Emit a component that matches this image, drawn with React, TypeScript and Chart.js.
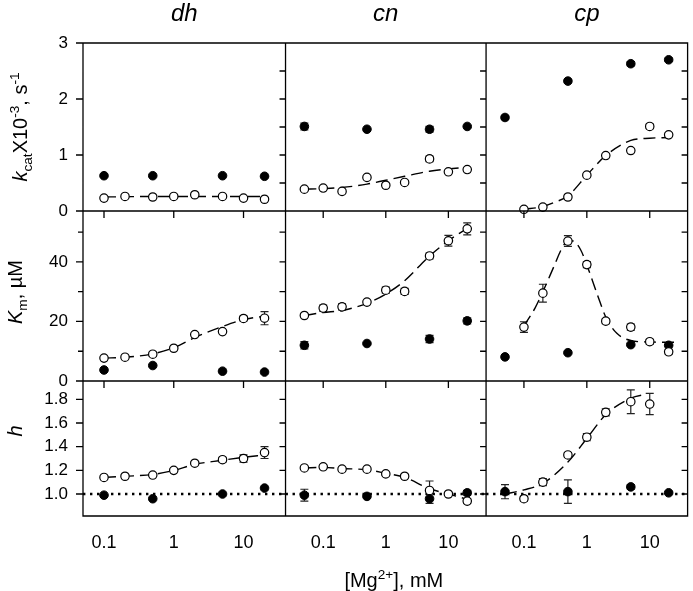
import React, { useEffect, useRef } from 'react';
import { Chart, registerables } from 'chart.js';
Chart.register(...registerables);

const FONT = "'Liberation Sans', Arial, Helvetica, sans-serif";

// ---------- x values (mM Mg2+) ----------
const xDhOpen = [0.1, 0.2, 0.5, 1, 2, 5, 10, 20];
const xDhFilled = [0.1, 0.5, 5, 20];
const xCnOpen = [0.05, 0.1, 0.2, 0.5, 1, 2, 5, 10, 20];
const xCnFilled = [0.05, 0.5, 5, 20];
const xCpOpen = [0.1, 0.2, 0.5, 1, 2, 5, 10, 20];
const xCpOpenH = [0.1, 0.2, 0.5, 1, 2, 5, 10];
const xCpFilled = [0.05, 0.5, 5, 20];

// ---------- kcat x10^-3 (s^-1) ----------
const kDhOpen = [0.23, 0.26, 0.25, 0.26, 0.29, 0.26, 0.23, 0.21];
const kDhFilled = [0.63, 0.63, 0.63, 0.62];
const kCnOpen = [0.39, 0.41, 0.35, 0.6, 0.46, 0.51, 0.93, 0.7, 0.74];
const kCnOpenErr = [0, 0, 0, 0, 0, 0, 0.05, 0, 0];
const kCnFilled = [1.51, 1.46, 1.46, 1.51];
const kCnFilledErr = [0.06, 0, 0.05, 0];
const kCpOpen = [0.03, 0.07, 0.25, 0.64, 0.99, 1.08, 1.51, 1.36];
const kCpOpenErr = [0, 0, 0, 0, 0, 0, 0.04, 0.03];
const kCpFilled = [1.67, 2.32, 2.63, 2.7];
const kCpFilledErr = [0.04, 0.03, 0.04, 0.03];

const fitDhKX = [0.1, 0.2, 0.5, 1, 2, 5, 10, 20];
const fitDhKY = [0.25, 0.255, 0.26, 0.26, 0.26, 0.26, 0.26, 0.26];
const fitCnKX = [0.05, 0.1, 0.2, 0.5, 1, 2, 5, 10, 20];
const fitCnKY = [0.39, 0.4, 0.42, 0.48, 0.55, 0.62, 0.71, 0.75, 0.78];
const fitCpKX = [0.1, 0.2, 0.3, 0.5, 1, 2, 5, 10, 20];
const fitCpKY = [0.03, 0.08, 0.15, 0.27, 0.64, 0.99, 1.26, 1.3, 1.31];

// ---------- Km (uM) ----------
const mDhOpen = [7.7, 8.0, 9.0, 11.0, 15.6, 16.6, 21.0, 21.1];
const mDhOpenErr = [0, 0, 0.7, 0, 0, 0, 0.8, 2.2];
const mDhFilled = [3.7, 5.2, 3.3, 3.0];
const mCnOpen = [22.0, 24.5, 24.9, 26.5, 30.5, 30.1, 42.0, 47.1, 51.1];
const mCnOpenErr = [0, 1, 1, 0, 1, 1, 1, 1.8, 2];
const mCnFilled = [12.0, 12.6, 14.1, 20.2];
const mCnFilledErr = [1.2, 0, 1.2, 1];
const mCpOpen = [18.1, 29.5, 47.0, 39.1, 20.1, 18.1, 13.2, 9.8];
const mCpOpenErr = [1.8, 3, 1.8, 1, 0.8, 1, 0.8, 0.8];
const mCpFilled = [8.1, 9.5, 12.2, 12.0];

const fitDhMX = [0.1, 0.2, 0.5, 1, 2, 5, 10, 20];
const fitDhMY = [7.7, 8.0, 9.1, 11.2, 14.6, 18.3, 20.6, 21.8];
const fitCnMX = [0.05, 0.1, 0.2, 0.5, 1, 2, 5, 10, 20];
const fitCnMY = [22.0, 23.0, 23.7, 26.1, 29.2, 33.7, 42.0, 47.1, 51.3];
const fitCpMX = [0.1, 0.15, 0.2, 0.3, 0.4, 0.5, 0.6, 0.8, 1, 1.5, 2, 3, 5, 10, 25];
const fitCpMY = [18.5, 24.5, 30, 38.5, 44.5, 47, 47, 44, 39, 28.5, 21.5, 16, 13.6, 13.1, 13.0];

// ---------- Hill coefficient h ----------
const hDhOpen = [1.14, 1.15, 1.16, 1.2, 1.26, 1.29, 1.3, 1.35];
const hDhOpenErr = [0, 0, 0, 0.01, 0.01, 0.02, 0.03, 0.05];
const hDhFilled = [0.99, 0.96, 1.0, 1.05];
const hCnOpen = [1.22, 1.23, 1.21, 1.21, 1.17, 1.15, 1.03, 1.0, 0.94];
const hCnOpenErr = [0, 0.015, 0.015, 0, 0.015, 0.015, 0.08, 0, 0.02];
const hCnFilled = [0.99, 0.98, 0.96, 1.01];
const hCnFilledErr = [0.05, 0.01, 0.04, 0.02];
const hCpOpen = [0.96, 1.1, 1.33, 1.48, 1.69, 1.78, 1.76];
const hCpOpenErr = [0.02, 0.03, 0.02, 0.03, 0.03, 0.1, 0.09];
const hCpFilled = [1.02, 1.02, 1.06, 1.01];
const hCpFilledErr = [0.06, 0.1, 0.02, 0.01];

const fitDhHX = [0.1, 0.2, 0.5, 1, 2, 5, 10, 20];
const fitDhHY = [1.14, 1.15, 1.165, 1.2, 1.25, 1.285, 1.31, 1.33];
const fitCnHX = [0.05, 0.1, 0.2, 0.5, 1, 2, 5, 10, 20];
const fitCnHY = [1.22, 1.225, 1.215, 1.205, 1.175, 1.14, 1.045, 1.0, 0.955];
const fitCpHX = [0.05, 0.1, 0.2, 0.5, 1, 2, 5, 9];
const fitCpHY = [1.0, 1.035, 1.09, 1.27, 1.47, 1.67, 1.81, 1.845];

// ---------- axes ----------
const colTitles = ['dh', 'cn', 'cp'];
const colMin = [0.05, 0.025, 0.025];
const colMax = [40, 40, 40];
const colWeight = [204, 202, 203];
const xTickValues = [0.1, 1, 10];
const xTickLabels = ['0.1', '1', '10'];
const rowWeight = [168, 170, 135];
const rowMin = [0, 0, 0.814];
const rowMax = [3, 57.1, 1.955];
const rowTicks = [[0, 1, 2, 3], [0, 20, 40], [1.0, 1.2, 1.4, 1.6, 1.8]];
const rowTickLabels = [['0', '1', '2', '3'], ['0', '20', '40'], ['1.0', '1.2', '1.4', '1.6', '1.8']];
const rowMinorLeft = [[], [10, 30, 50], []];
const rowInnerTicks = [[0.5, 1, 1.5, 2, 2.5], [10, 20, 30, 40, 50], [1.0, 1.2, 1.4, 1.6, 1.8]];
const hillRef = 1.0;

function pts(xs: number[], ys: number[]) {
  return xs.map((x, i) => ({ x, y: ys[i] }));
}

function openSet(col: number, row: number, xs: number[], ys: number[], errs?: number[]) {
  return {
    type: 'scatter', xAxisID: 'x' + col, yAxisID: 'y' + row, data: pts(xs, ys), errors: errs,
    pointRadius: 4.2, pointBorderWidth: 1.2, pointBackgroundColor: '#ffffff', pointBorderColor: '#000000',
    showLine: false, order: 0, clip: false,
  };
}
function filledSet(col: number, row: number, xs: number[], ys: number[], errs?: number[]) {
  return {
    type: 'scatter', xAxisID: 'x' + col, yAxisID: 'y' + row, data: pts(xs, ys), errors: errs,
    pointRadius: 4.3, pointBorderWidth: 1, pointBackgroundColor: '#000000', pointBorderColor: '#000000',
    showLine: false, order: 0, clip: false,
  };
}
function fitSet(col: number, row: number, xs: number[], ys: number[]) {
  return {
    type: 'line', xAxisID: 'x' + col, yAxisID: 'y' + row, data: pts(xs, ys),
    borderColor: '#000000', borderWidth: 1.4, borderDash: [12, 6], pointRadius: 0,
    cubicInterpolationMode: 'monotone', fill: false, order: 1, clip: false,
  };
}
function refSet(col: number) {
  return {
    type: 'line', xAxisID: 'x' + col, yAxisID: 'y3',
    data: [{ x: colMin[col - 1], y: hillRef }, { x: colMax[col - 1], y: hillRef }],
    borderColor: '#000000', borderWidth: 2.4, borderDash: [2.4, 4.6], pointRadius: 0,
    fill: false, order: 2, clip: false,
  };
}

type Run = { t: string; italic?: boolean; sub?: boolean; sup?: boolean };
function drawRich(ctx: CanvasRenderingContext2D, runs: Run[], size: number, x: number, y: number) {
  let total = 0;
  const items = runs.map((r) => {
    const s = r.sub || r.sup ? size * 0.68 : size;
    const f = `${r.italic ? 'italic ' : ''}${s}px ${FONT}`;
    ctx.font = f;
    const w = ctx.measureText(r.t).width;
    total += w;
    return { r, f, w, dy: r.sup ? -size * 0.42 : r.sub ? size * 0.24 : 0 };
  });
  let cx = x - total / 2;
  ctx.textAlign = 'left';
  ctx.textBaseline = 'alphabetic';
  for (const it of items) {
    ctx.font = it.f;
    ctx.fillText(it.r.t, cx, y + it.dy);
    cx += it.w;
  }
}

const rowTitles: Run[][] = [
  [{ t: 'k', italic: true }, { t: 'cat', sub: true }, { t: 'X10' }, { t: '-3', sup: true }, { t: ', s' }, { t: '-1', sup: true }],
  [{ t: 'K', italic: true }, { t: 'm', sub: true }, { t: ', \u00b5M' }],
  [{ t: 'h', italic: true }],
];
const xTitle: Run[] = [{ t: '[Mg' }, { t: '2+', sup: true }, { t: '], mM' }];

const errorBarPlugin = {
  id: 'errorBars',
  beforeDatasetsDraw(chart: any) {
    const ctx = chart.ctx;
    ctx.save();
    ctx.strokeStyle = '#222222';
    ctx.lineWidth = 1.2;
    chart.data.datasets.forEach((ds: any, di: number) => {
      if (!ds.errors) return;
      const meta = chart.getDatasetMeta(di);
      const ys = chart.scales[ds.yAxisID];
      ds.data.forEach((p: any, i: number) => {
        const e = ds.errors[i];
        if (!e) return;
        const el = meta.data[i];
        const px = el.x;
        const top = ys.getPixelForValue(p.y + e);
        const bot = ys.getPixelForValue(p.y - e);
        ctx.beginPath();
        ctx.moveTo(px, top); ctx.lineTo(px, bot);
        ctx.moveTo(px - 4, top); ctx.lineTo(px + 4, top);
        ctx.moveTo(px - 4, bot); ctx.lineTo(px + 4, bot);
        ctx.stroke();
      });
    });
    ctx.restore();
  },
};

const framePlugin = {
  id: 'frame',
  afterDraw(chart: any) {
    const ctx = chart.ctx;
    const xs = [chart.scales.x1, chart.scales.x2, chart.scales.x3];
    const ys = [chart.scales.y1, chart.scales.y2, chart.scales.y3];
    ctx.save();
    ctx.strokeStyle = '#000000';
    ctx.lineWidth = 1.3;
    ctx.beginPath();
    for (let c = 0; c < 3; c++) {
      for (let r = 0; r < 3; r++) {
        const xa = xs[c], ya = ys[r];
        ctx.rect(xa.left, ya.top, xa.right - xa.left, ya.bottom - ya.top);
        rowInnerTicks[r].forEach((v) => {
          const py = ya.getPixelForValue(v);
          ctx.moveTo(xa.right - 6, py); ctx.lineTo(xa.right, py);
        });
        if (r > 0) {
          xTickValues.forEach((v) => {
            const px = xa.getPixelForValue(v);
            ctx.moveTo(px, ya.top); ctx.lineTo(px, ya.top + 7);
          });
        }
      }
    }
    const left = xs[0].left;
    for (let r = 0; r < 3; r++) {
      const ya = ys[r];
      rowTicks[r].forEach((v) => {
        const py = ya.getPixelForValue(v);
        ctx.moveTo(left - 7, py); ctx.lineTo(left, py);
      });
      rowMinorLeft[r].forEach((v) => {
        const py = ya.getPixelForValue(v);
        ctx.moveTo(left - 5, py); ctx.lineTo(left, py);
      });
    }
    ctx.stroke();

    ctx.fillStyle = '#000000';
    for (let c = 0; c < 3; c++) {
      const xa = xs[c];
      drawRich(ctx, [{ t: colTitles[c], italic: true }], 24, (xa.left + xa.right) / 2, 21);
    }
    const titleBase = [27, 22, 22];
    const titleCenter = [
      (ys[0].top + ys[0].bottom) / 2,
      (ys[1].top + ys[1].bottom) / 2 - 4,
      ys[2].top + 50,
    ];
    for (let r = 0; r < 3; r++) {
      ctx.save();
      ctx.translate(titleBase[r], titleCenter[r]);
      ctx.rotate(-Math.PI / 2);
      drawRich(ctx, rowTitles[r], 20, 0, 0);
      ctx.restore();
    }
    drawRich(ctx, xTitle, 20, (xs[1].left + xs[1].right) / 2 + 8, 587);
    ctx.restore();
  },
};

function zeroPad(s: any) {
  s.paddingLeft = 0; s.paddingRight = 0; s.paddingTop = 0; s.paddingBottom = 0;
}

export default function App() {
  const ref = useRef<HTMLCanvasElement>(null);
  useEffect(() => {
    if (!ref.current) return;
    const scales: any = {};
    for (let c = 1; c <= 3; c++) {
      scales['x' + c] = {
        type: 'logarithmic', position: 'bottom', stack: 'cols', stackWeight: colWeight[c - 1],
        min: colMin[c - 1], max: colMax[c - 1],
        grid: { display: false, drawTicks: false }, border: { display: false },
        afterBuildTicks: (s: any) => { s.ticks = xTickValues.map((v) => ({ value: v })); },
        afterFit: (s: any) => { s.height = 75; zeroPad(s); },
        ticks: {
          color: '#000000', font: { family: FONT, size: 18 }, padding: 16, autoSkip: false,
          maxRotation: 0, minRotation: 0,
          callback: (v: number) => { const i = xTickValues.indexOf(v); return i >= 0 ? xTickLabels[i] : ''; },
        },
      };
    }
    // left-positioned stacked axes are laid out in reverse order: define bottom row first
    for (let r = 3; r >= 1; r--) {
      scales['y' + r] = {
        type: 'linear', position: 'left', stack: 'rows', stackWeight: rowWeight[r - 1],
        min: rowMin[r - 1], max: rowMax[r - 1],
        grid: { display: false, drawTicks: false }, border: { display: false },
        afterBuildTicks: (s: any) => { s.ticks = rowTicks[r - 1].map((v) => ({ value: v })); },
        afterFit: (s: any) => { s.width = 83; zeroPad(s); },
        ticks: {
          color: '#000000', font: { family: FONT, size: 17 }, padding: 15, autoSkip: false,
          callback: (v: number, i: number) => rowTickLabels[r - 1][i],
        },
      };
    }
    const datasets: any[] = [
      openSet(1, 1, xDhOpen, kDhOpen), filledSet(1, 1, xDhFilled, kDhFilled), fitSet(1, 1, fitDhKX, fitDhKY),
      openSet(2, 1, xCnOpen, kCnOpen, kCnOpenErr), filledSet(2, 1, xCnFilled, kCnFilled, kCnFilledErr), fitSet(2, 1, fitCnKX, fitCnKY),
      openSet(3, 1, xCpOpen, kCpOpen, kCpOpenErr), filledSet(3, 1, xCpFilled, kCpFilled, kCpFilledErr), fitSet(3, 1, fitCpKX, fitCpKY),
      openSet(1, 2, xDhOpen, mDhOpen, mDhOpenErr), filledSet(1, 2, xDhFilled, mDhFilled), fitSet(1, 2, fitDhMX, fitDhMY),
      openSet(2, 2, xCnOpen, mCnOpen, mCnOpenErr), filledSet(2, 2, xCnFilled, mCnFilled, mCnFilledErr), fitSet(2, 2, fitCnMX, fitCnMY),
      openSet(3, 2, xCpOpen, mCpOpen, mCpOpenErr), filledSet(3, 2, xCpFilled, mCpFilled), fitSet(3, 2, fitCpMX, fitCpMY),
      openSet(1, 3, xDhOpen, hDhOpen, hDhOpenErr), filledSet(1, 3, xDhFilled, hDhFilled), fitSet(1, 3, fitDhHX, fitDhHY),
      openSet(2, 3, xCnOpen, hCnOpen, hCnOpenErr), filledSet(2, 3, xCnFilled, hCnFilled, hCnFilledErr), fitSet(2, 3, fitCnHX, fitCnHY),
      openSet(3, 3, xCpOpenH, hCpOpen, hCpOpenErr), filledSet(3, 3, xCpFilled, hCpFilled, hCpFilledErr), fitSet(3, 3, fitCpHX, fitCpHY),
      refSet(1), refSet(2), refSet(3),
    ];
    const chart = new Chart(ref.current, {
      type: 'scatter',
      data: { datasets },
      options: {
        animation: false,
        responsive: false,
        devicePixelRatio: 1,
        events: [],
        layout: { padding: { top: 43, right: 1, left: 0, bottom: 0 } },
        plugins: { legend: { display: false }, tooltip: { enabled: false }, title: { display: false } },
        scales,
      },
      plugins: [errorBarPlugin, framePlugin],
    } as any);
    return () => chart.destroy();
  }, []);
  return (
    <div style={{ position: 'absolute', left: 0, top: 0, width: 693, height: 591, background: '#ffffff' }}>
      <canvas ref={ref} width={693} height={591} style={{ width: 693, height: 591, display: 'block' }} />
    </div>
  );
}
